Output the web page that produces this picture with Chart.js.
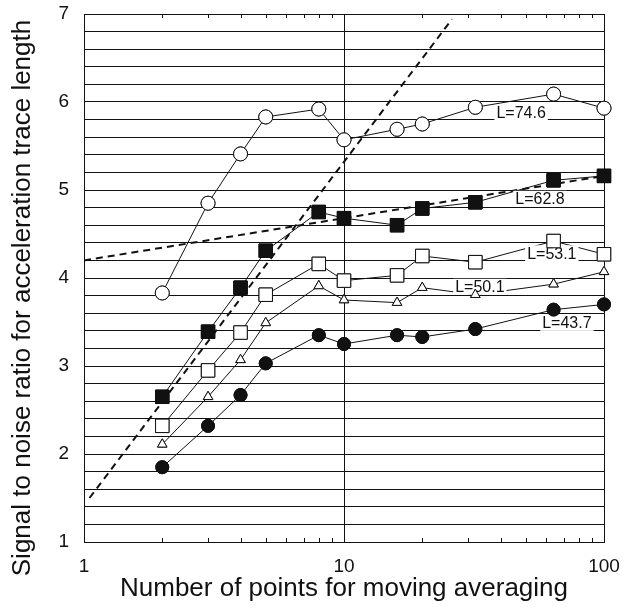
<!DOCTYPE html>
<html>
<head>
<meta charset="utf-8">
<script src="https://cdn.jsdelivr.net/npm/chart.js@4"></script>
<style>
  html, body { margin: 0; padding: 0; background: #fff; }
  #wrap { width: 631px; height: 608px; }
</style>
</head>
<body>
<div id="wrap"><canvas id="snrChart"></canvas></div>
<script>
const FONT = "'Liberation Sans', Arial, Helvetica, sans-serif";
const INK = "#111";

// moving average window (points)
const windowPoints = [2, 3, 4, 5, 8, 10, 16, 20, 32, 64, 100];

// signal to noise ratio, one list per trace length
const snrL746 = [3.83, 4.85, 5.41, 5.83, 5.92, 5.57, 5.69, 5.75, 5.94, 6.09, 5.93];
const snrL628 = [2.65, 3.39, 3.89, 4.31, 4.75, 4.68, 4.60, 4.79, 4.86, 5.11, 5.16];
const snrL531 = [2.32, 2.95, 3.38, 3.81, 4.16, 3.97, 4.03, 4.25, 4.18, 4.42, 4.27];
const snrL501 = [2.11, 2.65, 3.07, 3.49, 3.91, 3.75, 3.72, 3.89, 3.81, 3.93, 4.07];
const snrL437 = [1.85, 2.32, 2.67, 3.03, 3.35, 3.25, 3.35, 3.33, 3.42, 3.64, 3.70];

// dashed reference lines
const steepX = [1.05, 26];
const steepY = [1.5, 6.94];
const flatX = [1, 100];
const flatY = [4.2, 5.16];

// curve labels and where they sit (data units)
const labelTexts = ["L=74.6", "L=62.8", "L=53.1", "L=50.1", "L=43.7"];
const labelX = [48, 56.7, 63, 33.3, 72];
const labelY = [5.875, 4.9, 4.28, 3.9, 3.49];

const xTickLabels = [1, 10, 100];
const xMinorTicks = [2, 3, 4, 5, 6, 7, 8, 9, 20, 30, 40, 50, 60, 70, 80, 90];
const yTickLabels = [1, 2, 3, 4, 5, 6, 7];
const yTitle = "Signal to noise ratio for acceleration trace length";

const toPoints = (xs, ys) => xs.map((x, i) => ({ x: x, y: ys[i] }));

function series(values, style, fill, radius) {
  return {
    data: toPoints(windowPoints, values),
    showLine: true,
    clip: false,
    borderColor: INK,
    borderWidth: 1,
    pointStyle: style,
    pointRadius: radius,
    pointBackgroundColor: fill,
    pointBorderColor: INK,
    pointBorderWidth: 1,
  };
}

function dashed(xs, ys) {
  return {
    data: toPoints(xs, ys),
    showLine: true,
    borderColor: INK,
    borderWidth: 2,
    borderDash: [7, 5],
    pointRadius: 0,
  };
}

// frame, minor log ticks, boxed curve labels and the y title
const decorations = {
  id: "decorations",
  beforeDatasetsDraw(chart) {
    const { ctx, chartArea: a, scales } = chart;
    ctx.save();
    ctx.strokeStyle = INK;
    ctx.lineWidth = 1;
    ctx.strokeRect(Math.round(a.left) + 0.5, Math.round(a.top) + 0.5,
      Math.round(a.right - a.left), Math.round(a.bottom - a.top));
    for (const v of xMinorTicks) {
      const px = Math.round(scales.x.getPixelForValue(v)) + 0.5;
      ctx.beginPath();
      ctx.moveTo(px, a.top);
      ctx.lineTo(px, a.top + 4);
      ctx.moveTo(px, a.bottom);
      ctx.lineTo(px, a.bottom - 4);
      ctx.stroke();
    }
    ctx.restore();
  },
  afterDatasetsDraw(chart) {
    const { ctx, chartArea: a, scales } = chart;
    ctx.save();
    ctx.font = "16px " + FONT;
    ctx.textAlign = "center";
    ctx.textBaseline = "middle";
    labelTexts.forEach((txt, i) => {
      const px = scales.x.getPixelForValue(labelX[i]);
      const py = scales.y.getPixelForValue(labelY[i]);
      const w = ctx.measureText(txt).width;
      ctx.fillStyle = "#fff";
      ctx.fillRect(px - w / 2 - 2, py - 8, w + 4, 16);
      ctx.fillStyle = INK;
      ctx.fillText(txt, px, py + 1);
    });
    ctx.restore();
    // markers sit above the label boxes
    chart.data.datasets.forEach((ds, i) => {
      if (!ds.pointRadius) return;
      chart.getDatasetMeta(i).data.forEach((pt) => pt.draw(ctx));
    });
    ctx.save();
    ctx.fillStyle = INK;
    ctx.textAlign = "center";
    ctx.textBaseline = "middle";
    ctx.translate(23, a.top + 284);
    ctx.rotate(-Math.PI / 2);
    ctx.font = "26px " + FONT;
    ctx.fillText(yTitle, 0, 0);
    ctx.restore();
  },
};

new Chart(document.getElementById("snrChart"), {
  type: "scatter",
  data: {
    datasets: [
      dashed(steepX, steepY),
      dashed(flatX, flatY),
      series(snrL746, "circle", "#fff", 7),
      series(snrL628, "rect", INK, 9.5),
      series(snrL531, "rect", "#fff", 9.5),
      series(snrL501, "triangle", "#fff", 5.5),
      series(snrL437, "circle", INK, 6.5),
    ],
  },
  options: {
    responsive: true,
    maintainAspectRatio: false,
    animation: false,
    layout: { padding: { top: 14, right: 27, left: 0, bottom: 0 } },
    plugins: {
      legend: { display: false },
      tooltip: { enabled: false },
    },
    scales: {
      x: {
        type: "logarithmic",
        min: 1,
        max: 100,
        afterFit: (s) => {
          s.height = 66;
          s.paddingLeft = 0;
          s.paddingRight = 0;
        },
        ticks: {
          autoSkip: false,
          maxRotation: 0,
          padding: 13,
          color: INK,
          font: { family: FONT, size: 19 },
          callback: (v) => (xTickLabels.includes(v) ? String(v) : ""),
        },
        grid: {
          drawTicks: false,
          color: (c) => (c.tick && c.tick.value === 10 ? INK : "transparent"),
          lineWidth: 1,
        },
        border: { display: true, color: INK, width: 1 },
        title: {
          display: true,
          text: "Number of points for moving averaging",
          color: INK,
          font: { family: FONT, size: 26 },
          padding: { top: 0, bottom: 4 },
        },
      },
      y: {
        min: 1,
        max: 7,
        afterFit: (s) => {
          s.width = 84;
          s.paddingTop = 0;
          s.paddingBottom = 0;
        },
        ticks: {
          stepSize: 0.2,
          autoSkip: false,
          padding: 15,
          color: INK,
          font: { family: FONT, size: 19 },
          callback: (v) => {
            const r = Math.round(v);
            return Math.abs(v - r) < 1e-6 && yTickLabels.includes(r) ? String(r) : "";
          },
        },
        grid: { drawTicks: false, color: INK, lineWidth: 1 },
        border: { display: true, color: INK, width: 1 },
      },
    },
  },
  plugins: [decorations],
});
</script>
</body>
</html>
